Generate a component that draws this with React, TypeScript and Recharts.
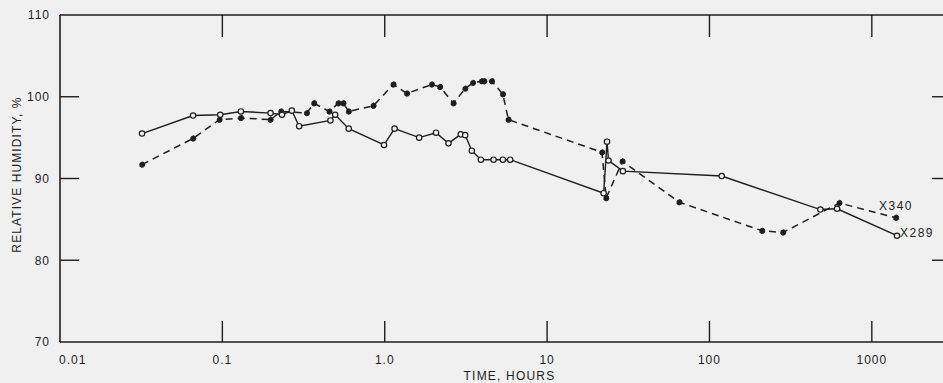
import React from 'react'
import { LineChart, Line, XAxis, YAxis, LabelList, Label } from 'recharts'

// values (time in hours on a log axis)
const x289Hours = [0.032, 0.066, 0.097, 0.13, 0.198, 0.233, 0.268, 0.297, 0.463, 0.495, 0.6, 0.99, 1.15, 1.63, 2.07, 2.47, 2.94, 3.13, 3.44, 3.91, 4.68, 5.34, 5.92, 22.3, 23.4, 23.9, 29.3, 119, 482, 611, 1429]
const x289RH = [95.5, 97.7, 97.8, 98.2, 98.0, 97.8, 98.3, 96.4, 97.1, 97.8, 96.1, 94.1, 96.1, 95.0, 95.6, 94.3, 95.4, 95.3, 93.4, 92.3, 92.3, 92.3, 92.3, 88.2, 94.5, 92.2, 90.9, 90.3, 86.2, 86.3, 83.0]

const x340Hours = [0.032, 0.066, 0.096, 0.13, 0.198, 0.23, 0.331, 0.367, 0.456, 0.518, 0.556, 0.6, 0.852, 1.13, 1.37, 1.95, 2.19, 2.65, 3.13, 3.49, 3.96, 4.1, 4.57, 5.34, 5.78, 21.8, 23.1, 29.1, 65.2, 211, 284, 631, 1409]
const x340RH = [91.7, 94.9, 97.2, 97.4, 97.2, 98.2, 98.0, 99.2, 98.2, 99.2, 99.2, 98.2, 98.9, 101.5, 100.4, 101.5, 101.2, 99.2, 101.0, 101.7, 101.9, 101.9, 101.9, 100.3, 97.2, 93.2, 87.6, 92.1, 87.1, 83.6, 83.4, 87.0, 85.2]

const hourTicks = [0.01, 0.1, 1, 10, 100, 1000]
const hourTickLabels = ['0.01', '0.1', '1.0', '10', '100', '1000']
const rhTicks = [70, 80, 90, 100, 110]
const hourDomain = [0.01, 3162.28]
const rhDomain = [70, 110]

const x289Data = x289Hours.map((h, i) => ({ hours: h, rh: x289RH[i] }))
const x340Data = x340Hours.map((h, i) => ({ hours: h, rh: x340RH[i] }))

const BG = '#f0f0f0'
const INK = '#1e1e1e'
const FONT = '"Liberation Sans", Arial, sans-serif'

const W = 960
const H = 383
const MARGIN = { top: 15, right: 7, bottom: 0, left: 0 }
const X_AXIS_H = 41
const Y_AXIS_W = 60
const PLOT_X = MARGIN.left + Y_AXIS_W
const PLOT_Y = MARGIN.top
const PLOT_W = W - MARGIN.left - MARGIN.right - Y_AXIS_W
const PLOT_H = H - MARGIN.top - MARGIN.bottom - X_AXIS_H

// same mapping as the chart's log / linear axes, for the top and right frame edges
const hx = (t: number) =>
  PLOT_X + ((Math.log10(t) - Math.log10(hourDomain[0])) /
    (Math.log10(hourDomain[1]) - Math.log10(hourDomain[0]))) * PLOT_W
const ry = (v: number) => PLOT_Y + ((rhDomain[1] - v) / (rhDomain[1] - rhDomain[0])) * PLOT_H

const BottomTick = ({ x, y, payload }: any) => {
  const i = hourTicks.indexOf(payload.value)
  const first = i === 0
  return (
    <g>
      {!first && <line x1={x} x2={x} y1={y} y2={y - 21} stroke={INK} strokeWidth={1.4} />}
      <text x={first ? x - 1 : x} y={y + 22} textAnchor={first ? 'start' : 'middle'}
        fontSize={12} letterSpacing={1} fontFamily={FONT} fill={INK}>
        {hourTickLabels[i]}
      </text>
    </g>
  )
}

const LeftTick = ({ x, y, payload }: any) => {
  const v = payload.value
  const edge = v === rhTicks[0] || v === rhTicks[rhTicks.length - 1]
  return (
    <g>
      {!edge && <line x1={x} x2={x + 19} y1={y} y2={y} stroke={INK} strokeWidth={1.4} />}
      <text x={x - 10} y={y} dy="0.36em" textAnchor="end" fontSize={12} letterSpacing={1}
        fontFamily={FONT} fill={INK}>
        {v}
      </text>
    </g>
  )
}

const FrameOverlay = () => (
  <svg width={943} height={H} style={{ position: 'absolute', left: 0, top: 0, pointerEvents: 'none' }}>
    <line x1={PLOT_X} x2={PLOT_X + PLOT_W} y1={PLOT_Y} y2={PLOT_Y} stroke={INK} strokeWidth={1.6} />
    <line x1={PLOT_X + PLOT_W} x2={PLOT_X + PLOT_W} y1={PLOT_Y} y2={PLOT_Y + PLOT_H} stroke={INK} strokeWidth={1.6} />
    {hourTicks.slice(1).map((t) => (
      <line key={t} x1={hx(t)} x2={hx(t)} y1={PLOT_Y} y2={PLOT_Y + 22} stroke={INK} strokeWidth={1.4} />
    ))}
    {rhTicks.slice(1, -1).map((v) => (
      <line key={v} x1={PLOT_X + PLOT_W - 21} x2={PLOT_X + PLOT_W} y1={ry(v)} y2={ry(v)} stroke={INK} strokeWidth={1.4} />
    ))}
  </svg>
)

const endLabel = (name: string, last: number, dx: number, dy: number, anchor: string) =>
  (p: any) => {
    if (p.index !== last) return null
    return (
      <text x={p.x + dx} y={p.y + dy} textAnchor={anchor} fontSize={12} letterSpacing={1.5}
        fontFamily={FONT} fill={INK}>
        {name}
      </text>
    )
  }

export default function App() {
  return (
    <div style={{ position: 'relative', width: 943, height: H, overflow: 'hidden', background: BG }}>
      <style>{`body{margin:0;background:${BG}}`}</style>
      <LineChart width={W} height={H} margin={MARGIN}>
        <XAxis xAxisId="b" dataKey="hours" type="number" scale="log" domain={hourDomain}
          allowDataOverflow ticks={hourTicks} interval={0} height={X_AXIS_H} tickSize={0} tickMargin={0}
          tick={<BottomTick />} axisLine={{ stroke: INK, strokeWidth: 1.6 }}>
          <Label content={({ viewBox }: any) => (
            <text x={viewBox.x + viewBox.width / 2 + 3} y={viewBox.y + 38} textAnchor="middle"
              fontSize={12} letterSpacing={1.2} fontFamily={FONT} fill={INK}>
              TIME, HOURS
            </text>
          )} />
        </XAxis>
        <YAxis yAxisId="l" domain={rhDomain} ticks={rhTicks} interval={0} width={Y_AXIS_W}
          tickSize={0} tickMargin={0} tick={<LeftTick />} axisLine={{ stroke: INK, strokeWidth: 1.6 }}>
          <Label content={({ viewBox }: any) => (
            <text x={17} y={viewBox.y + viewBox.height / 2 - 4} textAnchor="middle"
              dominantBaseline="central" transform={`rotate(-90 17 ${viewBox.y + viewBox.height / 2 - 4})`}
              fontSize={12} letterSpacing={1.1} fontFamily={FONT} fill={INK}>
              RELATIVE HUMIDITY, %
            </text>
          )} />
        </YAxis>

        <Line xAxisId="b" yAxisId="l" data={x340Data} dataKey="rh" type="linear"
          stroke={INK} strokeWidth={1.5} strokeDasharray="7 5" isAnimationActive={false}
          dot={{ r: 2.7, fill: INK, stroke: INK, strokeWidth: 1 }}>
          <LabelList dataKey="rh" content={endLabel('X340', x340Data.length - 1, 0, -8, 'middle')} />
        </Line>
        <Line xAxisId="b" yAxisId="l" data={x289Data} dataKey="rh" type="linear"
          stroke={INK} strokeWidth={1.4} isAnimationActive={false}
          dot={{ r: 2.7, fill: BG, stroke: INK, strokeWidth: 1.2 }}>
          <LabelList dataKey="rh" content={endLabel('X289', x289Data.length - 1, 3, 1, 'start')} />
        </Line>
      </LineChart>
      <FrameOverlay />
    </div>
  )
}
